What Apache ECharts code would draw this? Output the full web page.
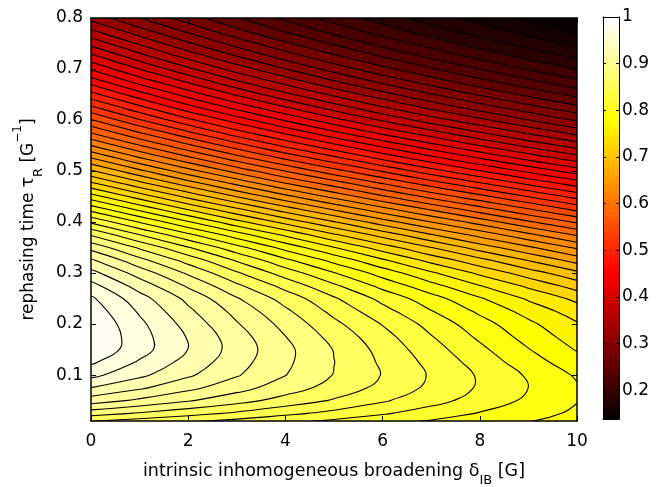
<!DOCTYPE html>
<html>
<head>
<meta charset="utf-8">
<script src="https://cdn.jsdelivr.net/npm/echarts/dist/echarts.min.js"></script>
<style>
html, body { margin: 0; padding: 0; background: #fff; }
#chart { width: 670px; height: 487px; }
</style>
</head>
<body>
<div id="chart"></div>
<script>
// intrinsic inhomogeneous broadening δ_IB [G] (grid columns)
const deltaValues = [0, 1, 2, 3, 4, 5, 6, 7, 8, 9, 10];
// rephasing time τ_R [1/G] (grid rows)
const tauValues = [0, 0.025, 0.05, 0.075, 0.1, 0.125, 0.15, 0.175, 0.2, 0.225, 0.25, 0.275,
  0.3, 0.325, 0.35, 0.375, 0.4, 0.425, 0.45, 0.475, 0.5, 0.525, 0.55, 0.575,
  0.6, 0.625, 0.65, 0.675, 0.7, 0.725, 0.75, 0.775, 0.8];
// signal[row = tau][col = delta]
const signal = [
  [0.850, 0.844, 0.837, 0.831, 0.825, 0.818, 0.812, 0.806, 0.800, 0.794, 0.788],
  [0.889, 0.880, 0.871, 0.862, 0.852, 0.843, 0.833, 0.823, 0.813, 0.804, 0.794],
  [0.924, 0.912, 0.900, 0.888, 0.875, 0.863, 0.850, 0.837, 0.824, 0.811, 0.798],
  [0.949, 0.935, 0.920, 0.905, 0.890, 0.875, 0.860, 0.844, 0.829, 0.814, 0.799],
  [0.971, 0.953, 0.935, 0.917, 0.899, 0.881, 0.864, 0.846, 0.829, 0.812, 0.795],
  [0.986, 0.964, 0.943, 0.922, 0.902, 0.882, 0.862, 0.843, 0.824, 0.805, 0.787],
  [0.997, 0.973, 0.949, 0.925, 0.903, 0.881, 0.859, 0.838, 0.818, 0.798, 0.779],
  [1.000, 0.973, 0.948, 0.923, 0.899, 0.876, 0.854, 0.832, 0.811, 0.791, 0.772],
  [0.998, 0.970, 0.943, 0.917, 0.893, 0.869, 0.847, 0.825, 0.804, 0.784, 0.765],
  [0.993, 0.964, 0.936, 0.910, 0.885, 0.860, 0.837, 0.815, 0.794, 0.774, 0.755],
  [0.986, 0.956, 0.928, 0.900, 0.875, 0.850, 0.826, 0.804, 0.782, 0.761, 0.742],
  [0.972, 0.942, 0.913, 0.885, 0.859, 0.834, 0.809, 0.786, 0.764, 0.743, 0.722],
  [0.955, 0.925, 0.896, 0.867, 0.840, 0.815, 0.790, 0.766, 0.743, 0.721, 0.700],
  [0.935, 0.904, 0.875, 0.846, 0.818, 0.792, 0.766, 0.741, 0.718, 0.695, 0.672],
  [0.910, 0.879, 0.849, 0.820, 0.791, 0.764, 0.738, 0.713, 0.688, 0.665, 0.642],
  [0.880, 0.848, 0.818, 0.788, 0.760, 0.732, 0.706, 0.680, 0.656, 0.632, 0.609],
  [0.845, 0.813, 0.782, 0.752, 0.724, 0.697, 0.670, 0.645, 0.621, 0.597, 0.575],
  [0.808, 0.776, 0.745, 0.716, 0.687, 0.660, 0.634, 0.609, 0.585, 0.562, 0.539],
  [0.771, 0.739, 0.708, 0.678, 0.650, 0.623, 0.597, 0.572, 0.549, 0.526, 0.504],
  [0.734, 0.702, 0.671, 0.642, 0.613, 0.587, 0.561, 0.536, 0.513, 0.490, 0.469],
  [0.698, 0.666, 0.635, 0.605, 0.577, 0.550, 0.525, 0.500, 0.477, 0.455, 0.434],
  [0.663, 0.630, 0.599, 0.569, 0.541, 0.515, 0.489, 0.465, 0.442, 0.420, 0.400],
  [0.628, 0.595, 0.564, 0.534, 0.506, 0.480, 0.455, 0.431, 0.408, 0.387, 0.367],
  [0.594, 0.561, 0.530, 0.500, 0.473, 0.446, 0.421, 0.398, 0.376, 0.355, 0.335],
  [0.562, 0.528, 0.497, 0.468, 0.440, 0.414, 0.389, 0.366, 0.345, 0.324, 0.305],
  [0.530, 0.497, 0.465, 0.436, 0.409, 0.383, 0.359, 0.336, 0.315, 0.296, 0.277],
  [0.499, 0.466, 0.435, 0.406, 0.379, 0.354, 0.330, 0.308, 0.288, 0.269, 0.251],
  [0.469, 0.436, 0.406, 0.377, 0.351, 0.326, 0.303, 0.282, 0.262, 0.244, 0.227],
  [0.440, 0.408, 0.378, 0.350, 0.324, 0.300, 0.278, 0.258, 0.239, 0.221, 0.205],
  [0.413, 0.381, 0.351, 0.324, 0.299, 0.276, 0.255, 0.235, 0.217, 0.200, 0.185],
  [0.386, 0.355, 0.326, 0.300, 0.276, 0.254, 0.233, 0.215, 0.197, 0.182, 0.167],
  [0.360, 0.330, 0.303, 0.277, 0.254, 0.233, 0.214, 0.196, 0.180, 0.165, 0.151],
  [0.335, 0.307, 0.281, 0.257, 0.235, 0.215, 0.197, 0.180, 0.165, 0.151, 0.138]
];
const yTicks = [0.1, 0.2, 0.3, 0.4, 0.5, 0.6, 0.7, 0.8];
const barTicks = [0.2, 0.3, 0.4, 0.5, 0.6, 0.7, 0.8, 0.9, 1];

const FONT = 'DejaVu Sans';
const levelCount = 50;
const mapSize = 64;

const nx = deltaValues.length;
const ny = tauValues.length;
let zMin = Infinity, zMax = -Infinity;
signal.forEach(row => row.forEach(v => { zMin = Math.min(zMin, v); zMax = Math.max(zMax, v); }));

// contour levels spread evenly between data min and max
const levels = [];
for (let k = 1; k <= levelCount; k++) levels.push(zMin + (zMax - zMin) * k / (levelCount + 1));
const fillLevels = [zMin].concat(levels);

// matlab "hot" colormap with 64 entries
function hotByIndex(i) {
  const r = Math.min(1, i / 24);
  const g = Math.min(1, Math.max(0, (i - 24) / 24));
  const b = Math.min(1, Math.max(0, (i - 48) / 16));
  return 'rgb(' + Math.round(r * 255) + ',' + Math.round(g * 255) + ',' + Math.round(b * 255) + ')';
}
function hotByValue(v) {
  const i = Math.floor((v - zMin) / (zMax - zMin) * mapSize) + 1;
  return hotByIndex(Math.max(1, Math.min(mapSize, i)));
}

function pixelGrid(api) {
  return tauValues.map(t => deltaValues.map(d => api.coord([d, t])));
}

const corners = [[0, 0], [1, 0], [1, 1], [0, 1]];
// id of the grid edge leaving corner c of cell (i, j)
function edgeKey(i, j, c) {
  if (c === 0) return 'h' + i + '_' + j;
  if (c === 1) return 'v' + (i + 1) + '_' + j;
  if (c === 2) return 'h' + i + '_' + (j + 1);
  return 'v' + i + '_' + j;
}

// walk the 4 corners of a cell, collecting corner and crossing points
function cellWalk(P, i, j, L) {
  const above = [], cross = [], poly = [];
  for (let c = 0; c < 4; c++) {
    const a = corners[c], b = corners[(c + 1) % 4];
    const za = signal[j + a[1]][i + a[0]], zb = signal[j + b[1]][i + b[0]];
    const pa = P[j + a[1]][i + a[0]], pb = P[j + b[1]][i + b[0]];
    above.push(za >= L);
    if (za >= L) poly.push(pa);
    if ((za >= L) !== (zb >= L)) {
      const t = (L - za) / (zb - za);
      const q = [pa[0] + t * (pb[0] - pa[0]), pa[1] + t * (pb[1] - pa[1])];
      poly.push(q);
      cross.push({ key: edgeKey(i, j, c), p: q });
    }
  }
  return { above, cross, poly };
}

function pt(p) { return p[0].toFixed(2) + ' ' + p[1].toFixed(2); }

// region z >= L as one compound path (no seams between cells)
function fillPath(P, L) {
  let d = '';
  for (let j = 0; j < ny - 1; j++) {
    for (let i = 0; i < nx - 1; i++) {
      const poly = cellWalk(P, i, j, L).poly;
      if (poly.length >= 3) d += 'M' + poly.map(pt).join('L') + 'Z';
    }
  }
  return d;
}

// marching squares, segments chained into polylines
function contourChains(P, L) {
  const pts = {}, adj = {};
  const link = (a, b) => {
    pts[a.key] = a.p; pts[b.key] = b.p;
    (adj[a.key] = adj[a.key] || []).push(b.key);
    (adj[b.key] = adj[b.key] || []).push(a.key);
  };
  for (let j = 0; j < ny - 1; j++) {
    for (let i = 0; i < nx - 1; i++) {
      const w = cellWalk(P, i, j, L);
      if (w.cross.length === 2) {
        link(w.cross[0], w.cross[1]);
      } else if (w.cross.length === 4) {
        const mid = (signal[j][i] + signal[j][i + 1] + signal[j + 1][i] + signal[j + 1][i + 1]) / 4 >= L;
        if (mid === w.above[0]) { link(w.cross[0], w.cross[1]); link(w.cross[2], w.cross[3]); }
        else { link(w.cross[3], w.cross[0]); link(w.cross[1], w.cross[2]); }
      }
    }
  }
  const seen = {};
  const walk = start => {
    const chain = [];
    let prev = null, cur = start;
    while (cur != null && !seen[cur]) {
      seen[cur] = true;
      chain.push(pts[cur]);
      const next = adj[cur].filter(n => n !== prev && !seen[n]);
      prev = cur;
      cur = next.length ? next[0] : null;
    }
    return chain;
  };
  const chains = [];
  Object.keys(adj).forEach(k => { if (adj[k].length === 1 && !seen[k]) chains.push(walk(k)); });
  Object.keys(adj).forEach(k => {
    if (!seen[k]) { const c = walk(k); c.push(c[0]); chains.push(c); }
  });
  return chains;
}

const axisLine = { onZero: false, lineStyle: { color: '#000', width: 1.5 } };
const barLine = { onZero: false, lineStyle: { color: '#000', width: 1 } };
const tickLabel = { color: '#000', fontSize: 17, fontFamily: FONT };

const barIndex = [];
for (let i = 1; i <= mapSize; i++) barIndex.push([i]);

const chart = echarts.init(document.getElementById('chart'));
const option = {
  backgroundColor: '#fff',
  animation: false,
  textStyle: { fontFamily: FONT, color: '#000' },
  grid: [
    { left: 91, top: 18, width: 486, height: 403, outerBoundsMode: 'none', containLabel: false },
    { left: 603, top: 17, width: 16, height: 402, outerBoundsMode: 'none', containLabel: false }
  ],
  xAxis: [
    {
      gridIndex: 0, type: 'value', min: 0, max: 10, interval: 2, position: 'bottom', z: 10,
      axisLine: axisLine,
      axisTick: { inside: true, length: 5, lineStyle: { color: '#000' } },
      axisLabel: Object.assign({ margin: 12 }, tickLabel),
      splitLine: { show: false },
      name: '{a|intrinsic inhomogeneous broadening δ}{b|IB}{a| [G]}',
      nameLocation: 'middle',
      nameGap: 41,
      nameTextStyle: {
        color: '#000', fontFamily: FONT, fontSize: 17.5,
        rich: {
          a: { color: '#000', fontFamily: FONT, fontSize: 17.5, lineHeight: 18, verticalAlign: 'top' },
          b: { color: '#000', fontFamily: FONT, fontSize: 13, lineHeight: 13, padding: [12, 0, 0, 0], verticalAlign: 'top' }
        }
      }
    },
    {
      gridIndex: 0, type: 'value', min: 0, max: 10, interval: 2, position: 'top', z: 10,
      axisLine: axisLine,
      axisTick: { inside: true, length: 5, lineStyle: { color: '#000' } },
      axisLabel: { show: false },
      splitLine: { show: false }
    },
    {
      gridIndex: 1, type: 'value', min: 0, max: 1, position: 'bottom', z: 10,
      axisLine: barLine, axisTick: { show: false }, axisLabel: { show: false }, splitLine: { show: false }
    },
    {
      gridIndex: 1, type: 'value', min: 0, max: 1, position: 'top', z: 10,
      axisLine: barLine, axisTick: { show: false }, axisLabel: { show: false }, splitLine: { show: false }
    }
  ],
  yAxis: [
    {
      gridIndex: 0, type: 'value', min: 0.01, max: 0.8, position: 'left', z: 10,
      axisLine: axisLine,
      axisTick: { inside: true, length: 5, customValues: yTicks, lineStyle: { color: '#000' } },
      axisLabel: Object.assign({ margin: 8, customValues: yTicks, formatter: v => v.toFixed(1) }, tickLabel),
      splitLine: { show: false },
      name: '{a|rephasing time τ}{b|R}{a| [G}{c|−1}{a|]}',
      nameLocation: 'middle',
      nameGap: 46,
      nameTextStyle: {
        color: '#000', fontFamily: FONT, fontSize: 17,
        rich: {
          a: { color: '#000', fontFamily: FONT, fontSize: 17, lineHeight: 18, padding: [8, 0, 0, 0], verticalAlign: 'top' },
          b: { color: '#000', fontFamily: FONT, fontSize: 13, lineHeight: 13, padding: [20, 0, 0, 0], verticalAlign: 'top' },
          c: { color: '#000', fontFamily: FONT, fontSize: 12, lineHeight: 12, verticalAlign: 'top' }
        }
      }
    },
    {
      gridIndex: 0, type: 'value', min: 0.01, max: 0.8, position: 'right', z: 10,
      axisLine: axisLine,
      axisTick: { inside: true, length: 5, customValues: yTicks, lineStyle: { color: '#000' } },
      axisLabel: { show: false },
      splitLine: { show: false }
    },
    {
      gridIndex: 1, type: 'value', min: zMin, max: zMax, position: 'left', z: 10,
      axisLine: barLine,
      axisTick: { inside: true, length: 3, customValues: barTicks, lineStyle: { color: '#000' } },
      axisLabel: { show: false },
      splitLine: { show: false }
    },
    {
      gridIndex: 1, type: 'value', min: zMin, max: zMax, position: 'right', z: 10,
      axisLine: barLine,
      axisTick: { inside: true, length: 3, customValues: barTicks, lineStyle: { color: '#000' } },
      axisLabel: Object.assign({
        margin: 3, customValues: barTicks,
        formatter: v => (v > 0.999 ? '1' : v.toFixed(1))
      }, tickLabel),
      splitLine: { show: false }
    }
  ],
  series: [
    {
      // filled bands, painted from the lowest level upwards
      type: 'custom', xAxisIndex: 0, yAxisIndex: 0, clip: true, silent: true, z: 2,
      data: fillLevels.map((L, k) => [k, L]),
      renderItem: (params, api) => {
        const k = api.value(0), L = api.value(1);
        return {
          type: 'path', z2: k,
          shape: { pathData: fillPath(pixelGrid(api), k === 0 ? -Infinity : L) },
          style: { fill: hotByValue(L), stroke: null }
        };
      }
    },
    {
      // contour lines
      type: 'custom', xAxisIndex: 0, yAxisIndex: 0, clip: true, silent: true, z: 3,
      data: levels.map((L, k) => [k, L]),
      renderItem: (params, api) => ({
        type: 'group',
        children: contourChains(pixelGrid(api), api.value(1)).map(c => ({
          type: 'polyline',
          shape: { points: c, smooth: 0.45 },
          style: { fill: 'none', stroke: '#000', lineWidth: 1.1 }
        }))
      })
    },
    {
      // colorbar
      type: 'custom', xAxisIndex: 2, yAxisIndex: 2, clip: true, silent: true, z: 2,
      data: barIndex,
      renderItem: (params, api) => {
        const i = api.value(0);
        const lo = zMin + (zMax - zMin) * (i - 1) / mapSize;
        const hi = zMin + (zMax - zMin) * i / mapSize;
        const p0 = api.coord([0, lo]), p1 = api.coord([1, hi]);
        return {
          type: 'rect',
          shape: { x: p0[0], y: p1[1] - 0.5, width: p1[0] - p0[0], height: p0[1] - p1[1] + 1 },
          style: { fill: hotByIndex(i) }
        };
      }
    }
  ]
};
chart.setOption(option);
</script>
</body>
</html>
